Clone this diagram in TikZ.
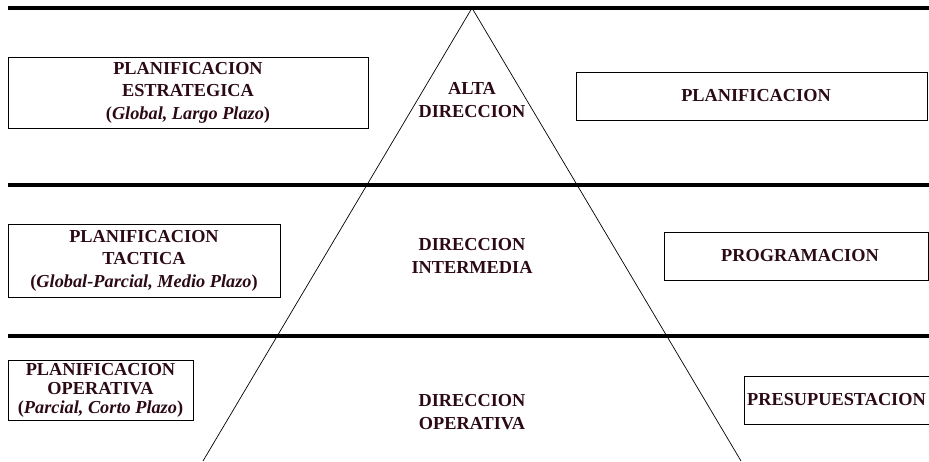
\documentclass[tikz,border=0pt]{standalone}
\usepackage{fontspec}
\setmainfont{Liberation Serif}
\definecolor{ink}{HTML}{2B0A16}

\begin{document}
\begin{tikzpicture}[x=1pt,y=-1pt]
  \tikzstyle{every node}=[text=ink,inner sep=0pt,align=center,
    font=\fontsize{18.3}{22.5}\selectfont\bfseries]
  \tikzstyle{planbox}=[draw=black,line width=0.8pt]
  \tikzstyle{level}=[line width=4pt]
  \tikzstyle{side}=[line width=0.7pt]
  \useasboundingbox (0,0) rectangle (929,461);
  % piramide
  \coordinate (apex)  at (472,8);
  \coordinate (baseL) at (203,461);
  \coordinate (baseR) at (741,461);
  \draw[side] (baseL) -- (apex) -- (baseR);
  % niveles
  \coordinate (topL) at (8,8);   \coordinate (topR) at (929,8);
  \coordinate (midL) at (8,185); \coordinate (midR) at (929,185);
  \coordinate (lowL) at (8,336); \coordinate (lowR) at (929,336);
  \draw[level] (topL) -- (topR);
  \draw[level] (midL) -- (midR);
  \draw[level] (lowL) -- (lowR);
  % direccion
  \node (alta)  at (472,100) {ALTA\\DIRECCION};
  \node (inter) at (472,256) {DIRECCION\\INTERMEDIA};
  \node (oper)  at (472,412) {DIRECCION\\OPERATIVA};
  % planificacion (izquierda)
  \node[planbox,minimum width=360,minimum height=71] (estr) at (188,92.5)
    {PLANIFICACION\\ESTRATEGICA\\({\itshape Global, Largo Plazo})};
  \node[planbox,minimum width=272,minimum height=73] (tact) at (144,260.5)
    {PLANIFICACION\\TACTICA\\({\itshape Global-Parcial, Medio Plazo})};
  \node[planbox,minimum width=185,minimum height=60,
    font=\fontsize{18.3}{19}\selectfont\bfseries] (opbox) at (100.5,390)
    {PLANIFICACION\\OPERATIVA\\({\itshape Parcial, Corto Plazo})};
  % derecha
  \node[planbox,minimum width=351,minimum height=48] (plan) at (751.5,96)
    {\hspace*{9pt}PLANIFICACION};
  \node[planbox,minimum width=264,minimum height=48] (prog) at (796,256)
    {\hspace*{8pt}PROGRAMACION};
  \node[planbox,minimum width=216,minimum height=48] (pres) at (852,400)
    {PRESUPUESTACION\hspace*{31pt}};
\end{tikzpicture}
\end{document}
